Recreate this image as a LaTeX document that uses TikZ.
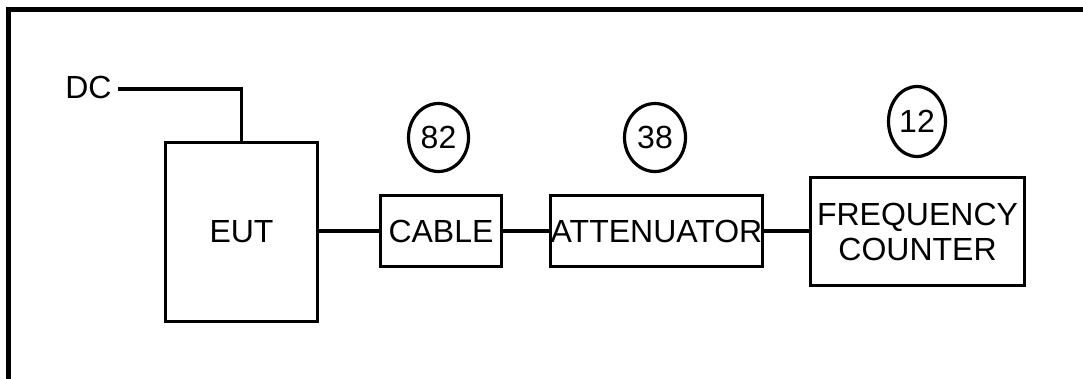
\documentclass[tikz,border=0pt]{standalone}
\usepackage{fontspec}
\setmainfont{Liberation Sans}
\usetikzlibrary{shapes.geometric}
\begin{document}
\begin{tikzpicture}[x=1pt,y=-1pt,
  txt/.style={font=\fontsize{32}{35}\selectfont},
  blk/.style={draw,line width=3.5pt,rectangle,inner sep=0pt,txt,align=center},
  num/.style={draw,line width=3.2pt,ellipse,inner sep=0pt,txt},
  wire/.style={line width=3.2pt}]
\useasboundingbox (0,0) rectangle (1083,378);
\draw[line width=4.8pt,line join=miter] (8.5,380) -- (8.5,9.5) -- (1085,9.5);
\node[txt,inner sep=0pt] (dc) at (88.5,87.5) {DC};
\node[blk,minimum width=152pt,minimum height=179pt] (eut) at (241.5,232) {EUT};
\node[blk,minimum width=121pt,minimum height=71pt] (cable) at (441,231) {CABLE};
\node[blk,minimum width=212pt,minimum height=71pt] (att) at (656.5,231) {ATTENUATOR};
\node[blk,minimum width=214pt,minimum height=108pt] (fc) at (917.5,231.5) {FREQUENCY\\COUNTER};
\node[num,minimum width=60pt,minimum height=68pt] (n82) at (438.5,137.5) {82};
\node[num,minimum width=61pt,minimum height=68pt] (n38) at (655,137.5) {38};
\node[num,minimum width=57pt,minimum height=70pt] (n12) at (917,121.5) {12};
\coordinate (dcend) at ([xshift=6pt,yshift=-1.5pt]dc.east);
\draw[wire] (dcend) -| (eut.north);
\draw[wire] (eut.east |- cable.west) -- (cable.west);
\draw[wire] (cable.east) -- (att.west);
\draw[wire] (att.east) -- (att.east -| fc.west);
\end{tikzpicture}
\end{document}
